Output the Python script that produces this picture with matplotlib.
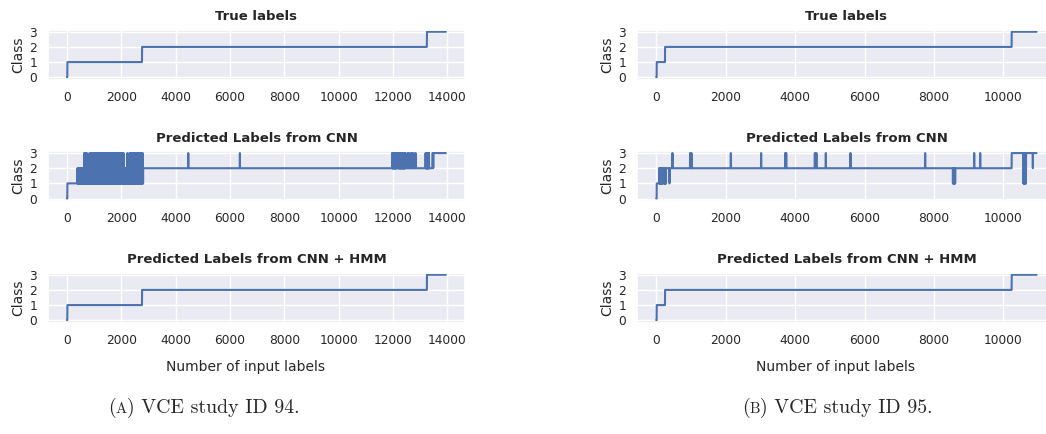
import numpy as np
import matplotlib.pyplot as plt
import seaborn as sns

sns.set_theme(style="darkgrid")

# ---- study 94: class change points (sample index where a class starts) ----
n94 = 13950
true94_start = [0, 10, 2760, 13250]
true94_cls = [0, 1, 2, 3]
hmm94_start = [0, 10, 2760, 13250]
hmm94_cls = [0, 1, 2, 3]
cnn94_start = [0, 10, 380, 13450]
cnn94_cls = [0, 1, 2, 3]
# flickering stretches (start, end, low class, high class)
cnn94_bursts = [(380, 2800, 1, 2), (1100, 2080, 1, 3), (2300, 2780, 1, 3),
                (11970, 12150, 2, 3), (12200, 12460, 2, 3), (13200, 13330, 2, 3)]
# single spikes (index, class)
cnn94_spikes = [(627, 3), (675, 3), (725, 3), (823, 3), (885, 3), (920, 3),
                (980, 3), (1030, 3), (1080, 3), (2220, 3), (4460, 3), (6360, 3),
                (12530, 3), (12580, 3), (12650, 3), (12700, 3), (12760, 3),
                (12830, 3), (13480, 2)]

# ---- study 95 ----
n95 = 10960
true95_start = [0, 10, 250, 10240]
true95_cls = [0, 1, 2, 3]
hmm95_start = [0, 10, 250, 10240]
hmm95_cls = [0, 1, 2, 3]
cnn95_start = [0, 10, 280, 10240]
cnn95_cls = [0, 1, 2, 3]
cnn95_bursts = [(78, 194, 1, 2), (230, 280, 1, 2), (8545, 8615, 1, 2),
                (10577, 10655, 1, 3)]
cnn95_spikes = [(375, 1), (461, 3), (971, 3), (1010, 3), (2144, 3), (3017, 3),
                (3710, 3), (3740, 3), (4565, 3), (4610, 3), (4881, 3), (5592, 3),
                (7744, 3), (9157, 3), (9330, 3), (10847, 2)]

titles = ["True labels", "Predicted Labels from CNN", "Predicted Labels from CNN + HMM"]
captions = [("A", "VCE study ID 94."), ("B", "VCE study ID 95.")]


def labels(n, start, cls, bursts=(), spikes=(), w=6, k=4):
    y = np.repeat(cls, np.diff(start + [n])).astype(float)
    for s, e, lo, hi in bursts:
        seg = np.arange(e - s)
        y[s:e] = np.where(seg // k % 2 == 0, lo, hi)
    for p, c in spikes:
        y[p:p + w] = c
    return y


cols = [
    [labels(n94, true94_start, true94_cls),
     labels(n94, cnn94_start, cnn94_cls, cnn94_bursts, cnn94_spikes),
     labels(n94, hmm94_start, hmm94_cls)],
    [labels(n95, true95_start, true95_cls),
     labels(n95, cnn95_start, cnn95_cls, cnn95_bursts, cnn95_spikes),
     labels(n95, hmm95_start, hmm95_cls)],
]

W, H = 1046, 434
fig = plt.figure(figsize=(W / 100, H / 100), dpi=100)

col_x = [(48.1, 416.7), (637.3, 418.3)]
row_c = [54.5, 175.8, 297.5]
ah = 50

axes = []
for c, series in enumerate(cols):
    x0, w = col_x[c]
    for r, y in enumerate(series):
        ax = fig.add_axes([x0 / W, 1 - (row_c[r] + ah / 2) / H, w / W, ah / H])
        ax.plot(np.arange(len(y)), y, color="#4C72B0", lw=1.5)
        ax.set_yticks([0, 1, 2, 3])
        ax.tick_params(labelsize=8.8, pad=2, colors="#262626")
        ax.set_title(titles[r], fontsize=9.5, fontweight="bold", color="#262626", pad=6.5)
        ax.set_ylabel("Class", fontsize=10, color="#262626", labelpad=3)
        if r == 2:
            ax.set_xlabel("Number of input labels", fontsize=10, color="#262626", labelpad=10)
            ax.xaxis.label.set_x(0.474)
        axes.append(ax)

# captions with a small-caps letter
cap_x = [108, 742]
cap_y = 1 - 413 / H
for (letter, rest), cx in zip(captions, cap_x):
    t1 = fig.text(cx / W, cap_y, "(", family="cmr10", fontsize=14.3, va="baseline")
    t2 = axes[0].annotate(letter, xy=(1, cap_y), xycoords=(t1, "figure fraction"),
                          family="cmr10", fontsize=10.7, va="baseline",
                          annotation_clip=False)
    axes[0].annotate(") " + rest, xy=(1, cap_y), xycoords=(t2, "figure fraction"),
                     family="cmr10", fontsize=14.3, va="baseline",
                     annotation_clip=False)

fig.savefig("out.png", dpi=100)
